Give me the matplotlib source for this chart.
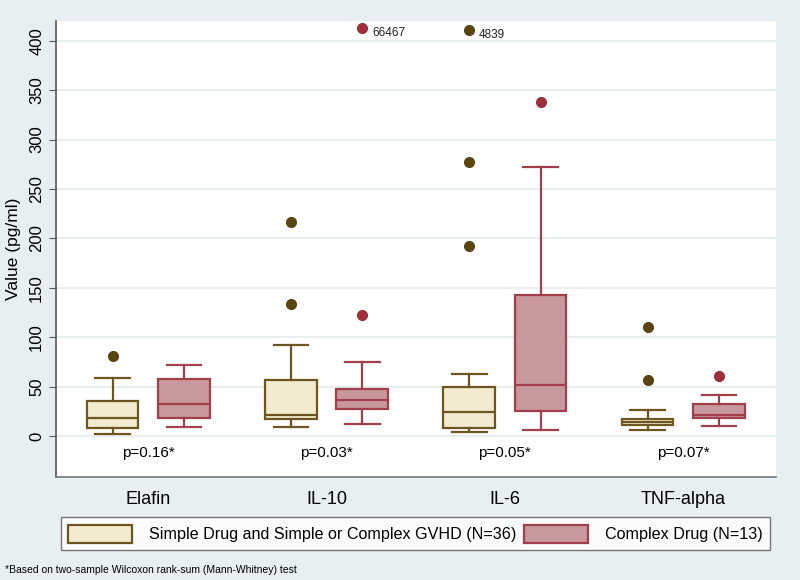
import numpy as np
import matplotlib.pyplot as plt
from matplotlib.patches import Patch

plt.rcParams['font.family'] = ['Liberation Sans', 'DejaVu Sans']

# data
markers = ['Elafin', 'IL-10', 'IL-6', 'TNF-alpha']
pvals = ['p=0.16*', 'p=0.03*', 'p=0.05*', 'p=0.07*']
groups = ['Simple Drug and Simple or Complex GVHD (N=36)', 'Complex Drug (N=13)']

# simple drug group
s_lo = [2.4, 9.4, 4.0, 6.0]
s_q1 = [8.4, 17.2, 7.8, 10.8]
s_med = [18.2, 21.3, 24.6, 14.2]
s_q3 = [35.4, 57.0, 49.3, 17.6]
s_hi = [59.0, 92.0, 62.4, 26.7]
s_out = [[81], [134, 217], [192, 277], [57, 110]]

# complex drug group
c_lo = [9.4, 12.2, 6.0, 10.0]
c_q1 = [17.9, 27.3, 25.0, 17.9]
c_med = [32.4, 36.5, 52.0, 21.3]
c_q3 = [57.7, 47.3, 142.5, 32.0]
c_hi = [72.0, 75.0, 272.7, 41.5]
c_out = [[], [122.5], [338], [60.8]]

# off-scale values drawn at the top of the axis with their value as text
big_vals = [66467, 4839]
big_cat = [1, 2]      # IL-10 complex, IL-6 simple
big_grp = [1, 0]
big_shown = [413, 411]

bg = '#e8eff3'
fills = ['#f2ebd0', '#c8989c']
edges = ['#6e5622', '#a13f4b']
dots = ['#5a4510', '#9e2f3c']

fig = plt.figure(figsize=(8, 5.8), dpi=100, facecolor=bg)
ax = fig.add_axes([0.07, 0.1776, 0.9, 0.7862])
ax.set_facecolor('white')

pos = np.arange(1, 5)
off = 0.2
width = 0.29

def stats(lo, q1, med, q3, hi, out):
    return [dict(whislo=lo[i], q1=q1[i], med=med[i], q3=q3[i], whishi=hi[i],
                 fliers=out[i]) for i in range(len(lo))]

sets = [stats(s_lo, s_q1, s_med, s_q3, s_hi, s_out),
        stats(c_lo, c_q1, c_med, c_q3, c_hi, c_out)]

for g in range(2):
    sign = -1 if g == 0 else 1
    ax.bxp(sets[g], positions=pos + sign * off, widths=width, patch_artist=True,
           showfliers=True, capwidths=width * 0.67,
           boxprops=dict(facecolor=fills[g], edgecolor=edges[g], linewidth=1.6),
           medianprops=dict(color=edges[g], linewidth=1.6),
           whiskerprops=dict(color=edges[g], linewidth=1.6),
           capprops=dict(color=edges[g], linewidth=1.6),
           flierprops=dict(marker='o', markersize=7, markerfacecolor=dots[g],
                           markeredgecolor=dots[g]))

for v, c, g, y in zip(big_vals, big_cat, big_grp, big_shown):
    x = pos[c] + (-off if g == 0 else off)
    ax.plot(x, y, 'o', ms=7, color=dots[g], clip_on=False)
    ax.annotate(str(v), (x, y), xytext=(7, -4), textcoords='offset points',
                fontsize=8.5, color='#222222', va='center')

for i, p in enumerate(pvals):
    ax.text(pos[i], -17.5, p, ha='center', va='center', fontsize=11)

ax.set_xlim(0.483, 4.52)
ax.set_ylim(-41.5, 420)
ax.set_yticks(np.arange(0, 401, 50))
ax.tick_params(axis='y', labelsize=12, labelrotation=90, length=5, color='#555555')
for t in ax.get_yticklabels():
    t.set_va('center')
ax.set_xticks(pos)
ax.set_xticklabels(markers, fontsize=13)
ax.tick_params(axis='x', length=0, pad=10)
ax.set_ylabel('Value (pg/ml)', fontsize=12.5, labelpad=6)
ax.grid(axis='y', color='#e6eef0', linewidth=1.3)
ax.set_axisbelow(True)
for s in ['top', 'right']:
    ax.spines[s].set_visible(False)
ax.spines['left'].set_color('#555555')
ax.spines['left'].set_linewidth(1.2)
ax.spines['bottom'].set_color('#777777')
ax.spines['bottom'].set_linewidth(1.2)

handles = [Patch(facecolor=fills[g], edgecolor=edges[g], linewidth=1.6) for g in range(2)]
leg = fig.legend(handles, groups, loc='center', bbox_to_anchor=(0.519, 0.080), ncol=2,
                 fontsize=11.6, frameon=True, fancybox=False, edgecolor='#555555',
                 handlelength=4.0, handleheight=1.35, handletextpad=1.0,
                 columnspacing=0.5, borderpad=0.45)
leg.get_frame().set_linewidth(1.0)

fig.text(0.006, 0.017, '*Based on two-sample Wilcoxon rank-sum (Mann-Whitney) test',
         fontsize=7.5, va='center')

fig.savefig('out.png', dpi=100, facecolor=bg)
